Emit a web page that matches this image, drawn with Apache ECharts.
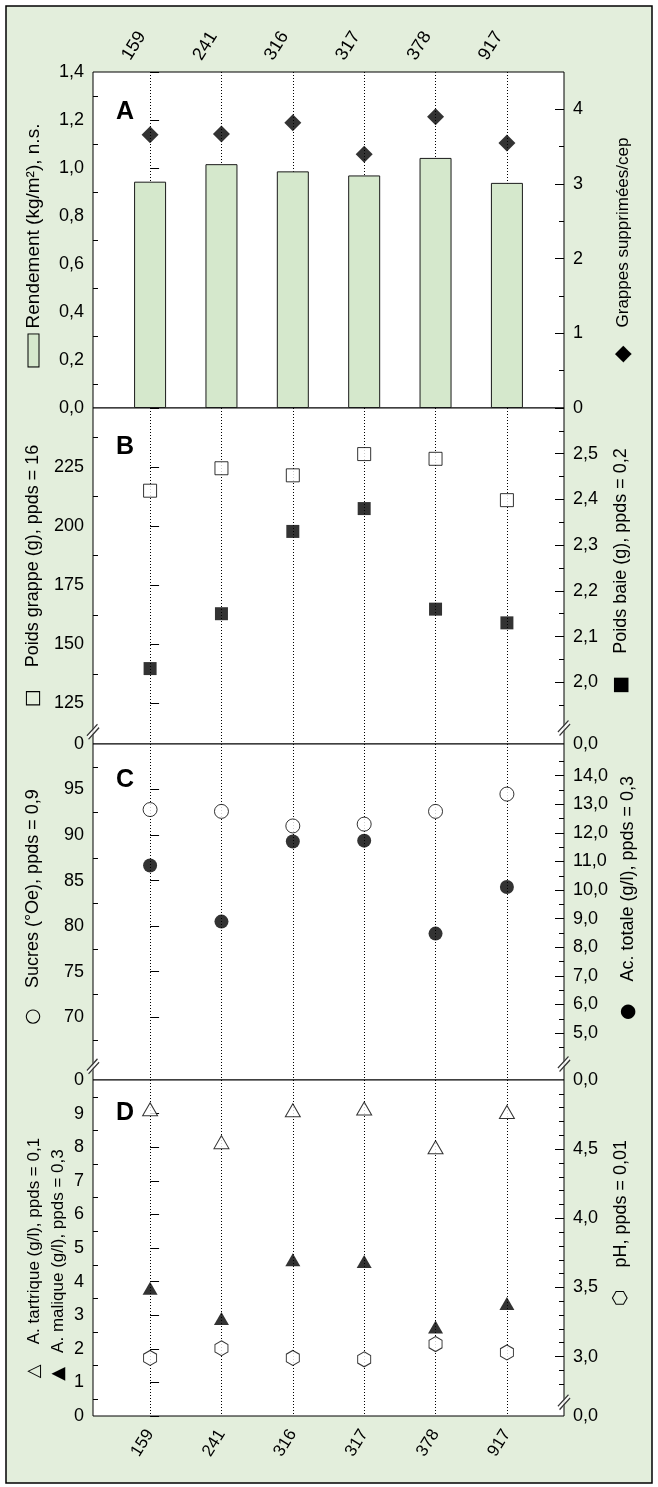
<!DOCTYPE html>
<html>
<head>
<meta charset="utf-8">
<script src="https://cdn.jsdelivr.net/npm/echarts@6/dist/echarts.min.js"></script>
<style>
html,body{margin:0;padding:0;background:#fff;}
#chart{width:658px;height:1487px;}
</style>
</head>
<body>
<div id="chart"></div>
<script>
// ---------------- data ----------------
const categories = ['159', '241', '316', '317', '378', '917'];

// Panel A
const rendement = [0.943, 1.016, 0.986, 0.969, 1.042, 0.938];
const grappesSupprimees = [3.66, 3.67, 3.82, 3.40, 3.90, 3.55];
// Panel B
const poidsGrappe = [215, 224.5, 221.5, 230.5, 228.5, 211];
const poidsBaie = [2.03, 2.15, 2.33, 2.38, 2.16, 2.13];
// Panel C
const sucres = [92.8, 92.6, 91.0, 91.2, 92.6, 94.5];
const acTotale = [10.86, 8.90, 11.70, 11.73, 8.48, 10.11];
// Panel D
const tartrique = [9.13, 8.15, 9.10, 9.15, 8.00, 9.05];
const malique = [3.80, 2.90, 4.65, 4.60, 2.65, 3.35];
const pH = [2.99, 3.06, 2.99, 2.98, 3.09, 3.03];

// tick values (major / minor)
const ticksRendement = [0, 0.2, 0.4, 0.6, 0.8, 1.0, 1.2, 1.4];
const minorRendement = [0.1, 0.3, 0.5, 0.7, 0.9, 1.1, 1.3];
const ticksGrappesSup = [0, 1, 2, 3, 4];
const minorGrappesSup = [0.5, 1.5, 2.5, 3.5];
const ticksPoidsGrappe = [125, 150, 175, 200, 225];
const minorPoidsGrappe = [137.5, 162.5, 187.5, 212.5, 237.5];
const ticksPoidsBaie = [2.0, 2.1, 2.2, 2.3, 2.4, 2.5];
const minorPoidsBaie = [1.95, 2.05, 2.15, 2.25, 2.35, 2.45, 2.55];
const ticksSucres = [70, 75, 80, 85, 90, 95];
const minorSucres = [67.5, 72.5, 77.5, 82.5, 87.5, 92.5, 97.5];
const ticksAcTotale = [5, 6, 7, 8, 9, 10, 11, 12, 13, 14];
const minorAcTotale = [4.5, 5.5, 6.5, 7.5, 8.5, 9.5, 10.5, 11.5, 12.5, 13.5, 14.5];
const ticksAcides = [0, 1, 2, 3, 4, 5, 6, 7, 8, 9];
const minorAcides = [0.5, 1.5, 2.5, 3.5, 4.5, 5.5, 6.5, 7.5, 8.5, 9.5];
const ticksPH = [3.0, 3.5, 4.0, 4.5];
const minorPH = [2.8, 2.9, 3.1, 3.2, 3.3, 3.4, 3.6, 3.7, 3.8, 3.9, 4.1, 4.2, 4.3, 4.4, 4.6, 4.7, 4.8, 4.9];

// ---------------- layout / style ----------------
const FONT = "'Liberation Sans', Arial, sans-serif";
const SYM = "'DejaVu Sans', 'Liberation Sans', sans-serif";
const GRID_LEFT = 93, GRID_W = 471, GRID_TOP = 72, GRID_H = 336;
const X_MIN = -0.8, X_MAX = 5.8;
const BAR_FILL = '#d5e8cc';
const LABEL_SIZE = 18;
const catIdx = categories.map((c, i) => i);

// axis name: legend symbol + spacing + text (symbol sits at the bottom of the rotated text)
function axisName(symKey, symText, text, lead, gap, size, tail) {
  return {
    text: '{lead|}' + '{' + symKey + '|' + symText + '}' + '{gap|}' + text + '{tail|}',
    rich: {
      lead: {width: lead},
      gap: {width: gap},
      tail: {width: tail || 0},
      bar: {width: 32, height: 10, backgroundColor: BAR_FILL, borderColor: '#000', borderWidth: 1},
      sym: {fontFamily: SYM, fontSize: size + 1, color: '#000'},
      dia: {fontFamily: SYM, fontSize: 22, color: '#000'}
    },
    size: size
  };
}

// axis definitions: grid, side, range, ticks, label format, name
const axisDefs = [
  {grid: 0, pos: 'left', min: 0, max: 1.4, major: ticksRendement, minor: minorRendement, dec: 1,
   name: axisName('bar', '', 'Rendement (kg/m²), n.s.', 0, 6, 19, 10), gap: 50},
  {grid: 0, pos: 'right', min: 0, max: 4.5, major: ticksGrappesSup, minor: minorGrappesSup, dec: 0,
   name: axisName('dia', '◆', 'Grappes supprimées/cep', 0, 18, 17, 20), gap: 48},
  {grid: 1, pos: 'left', min: 107.8, max: 250, major: ticksPoidsGrappe, minor: minorPoidsGrappe, dec: 0,
   breakLabel: '0', breakAt: 113, name: axisName('sym', '□', 'Poids grappe (g), ppds = 16', 0, 22, 18), gap: 50},
  {grid: 1, pos: 'right', min: 1.865, max: 2.6, major: ticksPoidsBaie, minor: minorPoidsBaie, dec: 1,
   breakLabel: '0,0', breakAt: 1.9, name: axisName('sym', '■', 'Poids baie (g), ppds = 0,2', 10, 22, 18), gap: 48},
  {grid: 2, pos: 'left', min: 63.1, max: 100, major: ticksSucres, minor: minorSucres, dec: 0,
   breakLabel: '0', breakAt: 64.6, name: axisName('sym', '○', 'Sucres (°Oe), ppds = 0,9', 10, 20, 18), gap: 50},
  {grid: 2, pos: 'right', min: 3.36, max: 15.11, major: ticksAcTotale, minor: minorAcTotale, dec: 1,
   breakLabel: '0,0', breakAt: 3.92, name: axisName('sym', '●', 'Ac. totale (g/l), ppds = 0,3', 28, 22, 18), gap: 48},
  {grid: 3, pos: 'left', min: 0, max: 10, major: ticksAcides, minor: minorAcides, dec: 0,
   name: axisName('sym', '△', 'A. tartrique (g/l), ppds = 0,1', 0, 20, 17, 20), gap: 50,
   name2: axisName('sym', '▲', 'A. malique (g/l), ppds = 0,3', 0, 14, 17, 34), gap2: 26},
  {grid: 3, pos: 'right', min: 2.57, max: 5.0, major: ticksPH, minor: minorPH, dec: 1,
   breakLabel: '0,0', breakAt: 2.67, name: axisName('sym', '⬡', 'pH, ppds = 0,01', 50, 22, 18), gap: 48}
];

const fmt = (v, dec) => Number(v).toFixed(dec).replace('.', ',');
const nameStyle = n => ({fontFamily: FONT, fontSize: n.size, color: '#000', rich: n.rich});

const yAxis = [];
axisDefs.forEach((d) => {
  const labelVals = d.breakLabel ? [d.min].concat(d.major) : d.major;
  // major axis (labels, long ticks, name)
  yAxis.push({
    type: 'value', gridIndex: d.grid, position: d.pos, min: d.min, max: d.max,
    axisLine: {show: false}, splitLine: {show: false},
    axisTick: {show: true, inside: true, length: 9, customValues: d.major, lineStyle: {color: '#000', width: 1}},
    axisLabel: {
      show: true, customValues: labelVals, margin: 9, fontFamily: FONT, fontSize: LABEL_SIZE, color: '#000',
      formatter: (v) => (d.breakLabel && Math.abs(v - d.min) < 1e-9) ? d.breakLabel : fmt(v, d.dec)
    },
    name: d.name.text, nameLocation: 'middle', nameRotate: 90, nameGap: d.gap, nameTextStyle: nameStyle(d.name)
  });
  // minor axis (short ticks, optional second name)
  const y2 = {
    type: 'value', gridIndex: d.grid, position: d.pos, min: d.min, max: d.max,
    axisLine: {show: false}, splitLine: {show: false},
    axisTick: {show: true, inside: true, length: 5, customValues: d.minor, lineStyle: {color: '#000', width: 1}},
    axisLabel: {show: false}
  };
  if (d.name2) {
    Object.assign(y2, {name: d.name2.text, nameLocation: 'middle', nameRotate: 90, nameGap: d.gap2,
      nameTextStyle: nameStyle(d.name2)});
  }
  yAxis.push(y2);
});
const yIdx = (grid, pos) => 2 * axisDefs.findIndex(d => d.grid === grid && d.pos === pos);

const grid = [0, 1, 2, 3].map(i => ({
  left: GRID_LEFT, width: GRID_W, top: GRID_TOP + GRID_H * i, height: GRID_H,
  show: true, backgroundColor: '#fff', borderColor: '#000', borderWidth: 1
}));

const xAxis = [0, 1, 2, 3].map(i => {
  const base = {
    type: 'value', gridIndex: i, min: X_MIN, max: X_MAX,
    position: i === 0 ? 'top' : 'bottom',
    axisLine: {show: false},
    axisTick: {show: false, customValues: catIdx},
    splitLine: {show: true, lineStyle: {color: '#000', width: 1, type: [1, 2]}}
  };
  if (i === 0) {
    base.axisLabel = {show: true, customValues: catIdx, formatter: v => categories[Math.round(v)],
      rotate: 58, align: 'center', verticalAlign: 'bottom', padding: [0, 0, 10, 0], margin: 16,
      fontFamily: FONT, fontSize: 18, color: '#000'};
  } else if (i === 3) {
    base.axisLabel = {show: true, customValues: catIdx, formatter: v => categories[Math.round(v)],
      rotate: 58, margin: 15, fontFamily: FONT, fontSize: 17, color: '#000'};
  } else {
    base.axisLabel = {show: false, customValues: catIdx};
  }
  return base;
});

const pts = arr => arr.map((v, i) => [i, v]);
const openStyle = {color: '#fff', borderColor: '#000', borderWidth: 1};
const fillStyle = {color: '#000'};
const HEX = 'path://M0,-10L8.66,-5L8.66,5L0,10L-8.66,5L-8.66,-5Z';

const series = [
  {type: 'bar', name: 'Rendement', xAxisIndex: 0, yAxisIndex: yIdx(0, 'left'), data: pts(rendement),
   barWidth: 32, itemStyle: {color: BAR_FILL, borderColor: '#1a1a1a', borderWidth: 1}},
  {type: 'scatter', name: 'Grappes supprimées/cep', xAxisIndex: 0, yAxisIndex: yIdx(0, 'right'),
   data: pts(grappesSupprimees), symbol: 'diamond', symbolSize: 17, itemStyle: fillStyle, z: 4},
  {type: 'scatter', name: 'Poids grappe', xAxisIndex: 1, yAxisIndex: yIdx(1, 'left'),
   data: pts(poidsGrappe), symbol: 'rect', symbolSize: 13, itemStyle: openStyle, z: 4},
  {type: 'scatter', name: 'Poids baie', xAxisIndex: 1, yAxisIndex: yIdx(1, 'right'),
   data: pts(poidsBaie), symbol: 'rect', symbolSize: 13, itemStyle: fillStyle, z: 4},
  {type: 'scatter', name: 'Sucres', xAxisIndex: 2, yAxisIndex: yIdx(2, 'left'),
   data: pts(sucres), symbol: 'circle', symbolSize: 14, itemStyle: openStyle, z: 4},
  {type: 'scatter', name: 'Ac. totale', xAxisIndex: 2, yAxisIndex: yIdx(2, 'right'),
   data: pts(acTotale), symbol: 'circle', symbolSize: 14, itemStyle: fillStyle, z: 4},
  {type: 'scatter', name: 'A. tartrique', xAxisIndex: 3, yAxisIndex: yIdx(3, 'left'),
   data: pts(tartrique), symbol: 'triangle', symbolSize: [15, 13], itemStyle: openStyle, z: 4},
  {type: 'scatter', name: 'A. malique', xAxisIndex: 3, yAxisIndex: yIdx(3, 'left'),
   data: pts(malique), symbol: 'triangle', symbolSize: [15, 13], itemStyle: fillStyle, z: 4},
  {type: 'scatter', name: 'pH', xAxisIndex: 3, yAxisIndex: yIdx(3, 'right'),
   data: pts(pH), symbol: HEX, symbolSize: [13, 15], itemStyle: openStyle, z: 4}
];

// axis-break marks "//"
const BREAK_FILL = 'path://M0,13L13,0L16,5L3,18Z';
const BREAK_LINES = 'path://M0,13L13,0L14,1.2L1,14.2ZM2,16.8L15,3.8L16,5L3,18Z';
axisDefs.forEach((d, k) => {
  if (d.breakAt === undefined) return;
  const x = d.pos === 'left' ? X_MIN : X_MAX;
  [[BREAK_FILL, '#fff'], [BREAK_LINES, '#000']].forEach(([sym, col], j) => {
    series.push({type: 'scatter', xAxisIndex: d.grid, yAxisIndex: 2 * k, data: [[x, d.breakAt]],
      symbol: sym, symbolSize: [13, 16], itemStyle: {color: col}, silent: true, clip: false, z: 6 + j});
  });
});

const letters = [['A', 100], ['B', 435], ['C', 768], ['D', 1101]];
const graphic = [
  {type: 'rect', z: -100, shape: {x: 6, y: 6, width: 646, height: 1477},
   style: {fill: '#e3eedc', stroke: '#000', lineWidth: 1.5}}
].concat(letters.map(([t, y]) => ({
  type: 'text', left: 116, top: y, z: 10,
  style: {text: t, font: "bold 25px 'Liberation Sans', Arial, sans-serif", fill: '#000'}
})));

const chart = echarts.init(document.getElementById('chart'), null, {renderer: 'canvas'});
chart.setOption({
  backgroundColor: '#fff',
  animation: false,
  grid: grid,
  xAxis: xAxis,
  yAxis: yAxis,
  series: series,
  graphic: graphic
});
</script>
</body>
</html>
